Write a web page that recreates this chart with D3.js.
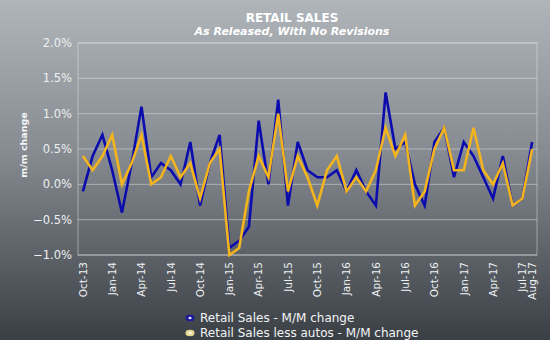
<!DOCTYPE html>
<html><head><meta charset="utf-8">
<script src="https://cdn.jsdelivr.net/npm/d3@7"></script>
<style>html,body{margin:0;padding:0;background:#777;}svg{display:block;}</style>
</head><body>
<svg id="c" width="550" height="340"></svg>
<script>
const months = ["Oct-13","Nov-13","Dec-13","Jan-14","Feb-14","Mar-14","Apr-14","May-14","Jun-14","Jul-14","Aug-14","Sep-14",
"Oct-14","Nov-14","Dec-14","Jan-15","Feb-15","Mar-15","Apr-15","May-15","Jun-15","Jul-15","Aug-15","Sep-15",
"Oct-15","Nov-15","Dec-15","Jan-16","Feb-16","Mar-16","Apr-16","May-16","Jun-16","Jul-16","Aug-16","Sep-16",
"Oct-16","Nov-16","Dec-16","Jan-17","Feb-17","Mar-17","Apr-17","May-17","Jun-17","Jul-17","Aug-17"];
const retailSales = [-0.1,0.4,0.7,0.2,-0.4,0.3,1.1,0.1,0.3,0.2,0.0,0.6,
-0.3,0.3,0.7,-0.9,-0.8,-0.6,0.9,0.0,1.2,-0.3,0.6,0.2,
0.1,0.1,0.2,-0.1,0.2,-0.1,-0.3,1.3,0.5,0.6,0.0,-0.3,
0.6,0.8,0.1,0.6,0.4,0.1,-0.2,0.4,-0.3,-0.2,0.6];
const retailLessAutos = [0.4,0.2,0.4,0.7,0.0,0.3,0.7,0.0,0.1,0.4,0.1,0.3,
-0.2,0.3,0.5,-1.0,-0.9,-0.1,0.4,0.1,1.0,-0.1,0.4,0.1,
-0.3,0.2,0.4,-0.1,0.1,-0.1,0.2,0.8,0.4,0.7,-0.3,-0.1,
0.5,0.8,0.2,0.2,0.8,0.2,0.0,0.3,-0.3,-0.2,0.5];
const tickMonths = ["Oct-13","Jan-14","Apr-14","Jul-14","Oct-14","Jan-15","Apr-15","Jul-15","Oct-15","Jan-16","Apr-16","Jul-16","Oct-16","Jan-17","Apr-17","Jul-17","Aug-17"];
const yTicks = [2.0,1.5,1.0,0.5,0.0,-0.5,-1.0];
const seriesNames = ["Retail Sales - M/M change","Retail Sales less autos - M/M change"];
const seriesColors = ["#0c0cae","#f3b41e"];

const svg = d3.select("#c");
const W = 550, H = 340;
const L = 78, R = 537, T = 43, B = 255;
const font = "'DejaVu Sans', Verdana, sans-serif";

const defs = svg.append("defs");
const g = defs.append("linearGradient").attr("id","bg").attr("x1",0).attr("y1",0).attr("x2",0).attr("y2",1);
g.append("stop").attr("offset","0%").attr("stop-color","#b0b5ba");
g.append("stop").attr("offset","45%").attr("stop-color","#858b91");
g.append("stop").attr("offset","100%").attr("stop-color","#3a3f45");
svg.append("rect").attr("width",W).attr("height",H).attr("fill","url(#bg)");

const x = d3.scaleBand().domain(months).range([L,R]);
const y = d3.scaleLinear().domain([-1,2]).range([B,T]);
const cx = m => x(m) + x.bandwidth()/2;

// gridlines
svg.append("g").selectAll("line").data(yTicks).join("line")
  .attr("x1",L).attr("x2",R).attr("y1",d=>y(d)).attr("y2",d=>y(d))
  .attr("stroke","rgba(235,238,242,0.45)").attr("stroke-width",1);
svg.append("rect").attr("x",L).attr("y",T).attr("width",R-L).attr("height",B-T)
  .attr("fill","none").attr("stroke","rgba(235,238,242,0.45)").attr("stroke-width",1);

// y tick labels
svg.append("g").selectAll("text").data(yTicks).join("text")
  .attr("x",72).attr("y",d=>y(d)).attr("dy","0.36em").attr("text-anchor","end")
  .attr("font-family",font).attr("font-size","11.5px").attr("fill","#eef0f2")
  .text(d=>d3.format(".1f")(d)+"%");

// y axis title
svg.append("text").attr("transform","translate(27,145) rotate(-90)")
  .attr("text-anchor","middle").attr("font-family",font).attr("font-weight","bold")
  .attr("font-size","9.5px").attr("fill","#f4f5f6").text("m/m change");

// x tick labels
svg.append("g").selectAll("text").data(tickMonths).join("text")
  .attr("transform",d=>`translate(${cx(d)},262) rotate(-90)`)
  .attr("dy","0.36em").attr("text-anchor","end")
  .attr("font-family",font).attr("font-size","10.5px").attr("fill","#eef0f2")
  .text(d=>d);

// lines
const line = d3.line().x((d,i)=>cx(months[i])).y(d=>y(d));
[retailSales, retailLessAutos].forEach((s,k)=>{
  svg.append("path").datum(s).attr("d",line).attr("fill","none")
    .attr("stroke",seriesColors[k]).attr("stroke-width",2.6).attr("stroke-linejoin","miter");
});

// titles
svg.append("text").attr("x",292).attr("y",22).attr("text-anchor","middle")
  .attr("font-family",font).attr("font-weight","bold").attr("font-size","12px")
  .attr("fill","#ffffff").text("RETAIL SALES");
svg.append("text").attr("x",292).attr("y",35).attr("text-anchor","middle")
  .attr("font-family",font).attr("font-weight","bold").attr("font-style","italic").attr("font-size","11px")
  .attr("fill","#ffffff").text("As Released, With No Revisions");

// legend
const markerFill = ["#1a1a9a","#e8d890"];
const leg = svg.append("g").selectAll("g").data(seriesNames).join("g")
  .attr("transform",(d,i)=>`translate(190,${318+i*15})`);
leg.append("ellipse").attr("rx",4.5).attr("ry",3.2).attr("fill",(d,i)=>markerFill[i]);
leg.append("ellipse").attr("rx",1.6).attr("ry",1.3).attr("fill","#ffffff").attr("opacity",0.9);
leg.append("text").attr("x",10).attr("dy","0.36em")
  .attr("font-family",font).attr("font-size","12px").attr("fill","#f2f3f4").text(d=>d);
</script>
</body></html>
